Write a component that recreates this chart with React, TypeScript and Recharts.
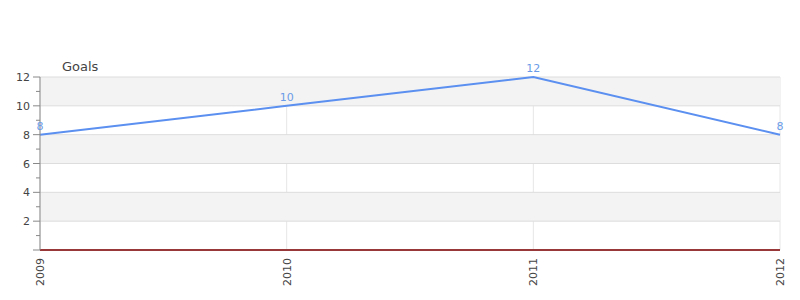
import {
  LineChart,
  Line,
  XAxis,
  YAxis,
  CartesianGrid,
  ReferenceArea,
  ReferenceLine,
  LabelList,
} from "recharts";

const years = ["2009", "2010", "2011", "2012"];
const goals = [8, 10, 12, 8];
const baseline = [0, 0, 0, 0];
const yTicks = [0, 1, 2, 3, 4, 5, 6, 7, 8, 9, 10, 11, 12];
const gridValues = [2, 4, 6, 8, 10, 12];
const shadedBands = [
  [2, 4],
  [6, 8],
  [10, 12],
];

const data = years.map((year, i) => ({
  year,
  goals: goals[i],
  baseline: baseline[i],
}));

const FONT = "'DejaVu Sans', sans-serif";

function YTick(props: any) {
  const { x, y, payload } = props;
  const v = payload.value as number;
  const major = v % 2 === 0;
  return (
    <g>
      <line
        x1={x - (major ? 7 : 4)}
        x2={x}
        y1={y}
        y2={y}
        stroke="#888"
        strokeWidth={1}
      />
      {major && v !== 0 && (
        <text
          x={x - 10}
          y={y}
          dy={4}
          textAnchor="end"
          fontSize={11}
          fill="#444"
          fontFamily={FONT}
        >
          {v}
        </text>
      )}
    </g>
  );
}

function XTick(props: any) {
  const { x, y, payload } = props;
  return (
    <g transform={`translate(${x},${y})`}>
      <text
        x={-8}
        y={0}
        dy={4}
        transform="rotate(-90)"
        textAnchor="end"
        fontSize={11}
        fill="#444"
        fontFamily={FONT}
      >
        {payload.value}
      </text>
    </g>
  );
}

export default function App() {
  return (
    <div style={{ position: "relative", width: 800, height: 300, fontFamily: FONT }}>
      <style>{`body { margin: 0; }`}</style>
      <div
        style={{
          position: "absolute",
          left: 62,
          top: 59,
          fontSize: 13,
          color: "#444",
          fontFamily: FONT,
        }}
      >
        Goals
      </div>
      <LineChart
        width={800}
        height={300}
        data={data}
        margin={{ top: 77, right: 20, left: 0, bottom: 0 }}
      >
        {shadedBands.map(([a, b]) => (
          <ReferenceArea
            key={`band-${a}`}
            y1={a}
            y2={b}
            fill="#f3f3f3"
            fillOpacity={1}
            stroke="none"
            ifOverflow="visible"
          />
        ))}
        <CartesianGrid horizontal={false} vertical stroke="#e6e6e6" />
        {gridValues.map((v) => (
          <ReferenceLine key={`grid-${v}`} y={v} stroke="#dddddd" />
        ))}
        <XAxis
          dataKey="year"
          height={50}
          tickSize={0}
          tickMargin={0}
          tick={<XTick />}
          axisLine={{ stroke: "#555" }}
          interval={0}
        />
        <YAxis
          width={40}
          domain={[0, 12]}
          ticks={yTicks}
          interval={0}
          tickSize={0}
          tickMargin={0}
          tick={<YTick />}
          axisLine={{ stroke: "#888" }}
        />
        <Line
          dataKey="baseline"
          stroke="#dd1c1c"
          strokeWidth={2}
          dot={false}
          isAnimationActive={false}
        />
        <Line
          dataKey="goals"
          stroke="#5b8ff0"
          strokeWidth={2}
          dot={false}
          isAnimationActive={false}
        >
          <LabelList
            dataKey="goals"
            position="top"
            offset={5}
            fill="#6a9be8"
            fontSize={11}
            fontFamily={FONT}
          />
        </Line>
      </LineChart>
    </div>
  );
}
